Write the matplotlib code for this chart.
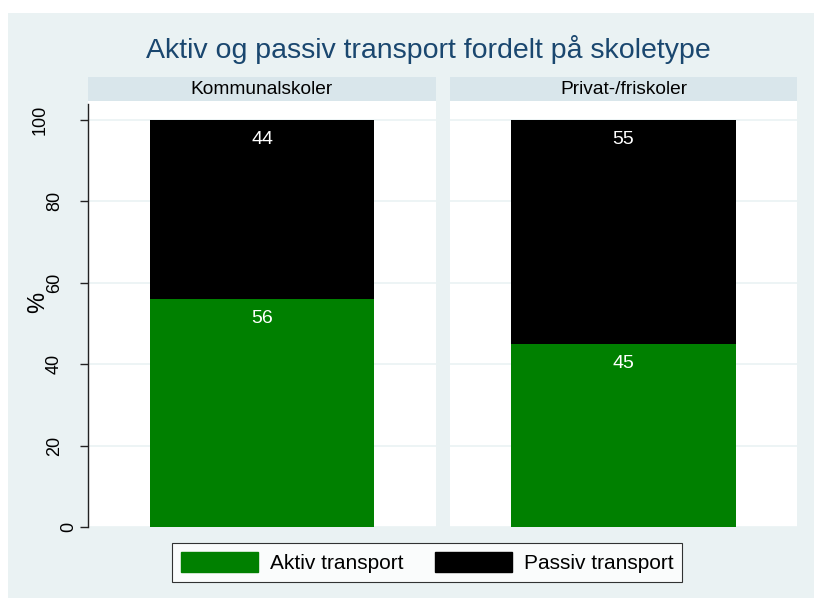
import matplotlib
matplotlib.use("Agg")
import matplotlib.pyplot as plt
import matplotlib.transforms as mtransforms
from matplotlib.patches import Patch, Rectangle

plt.rcParams['font.family'] = ['Liberation Sans', 'DejaVu Sans']

panels = ["Kommunalskoler", "Privat-/friskoler"]
aktiv = [56, 45]
passiv = [44, 55]
yticks = [0, 20, 40, 60, 80, 100]

bg = "#EAF2F3"
strip_col = "#D9E6EB"
green = "#008000"
title_col = "#1A476F"

W, H = 814, 598
fig = plt.figure(figsize=(W / 100, H / 100), dpi=100)
fig.patch.set_facecolor("white")
fig.patches.append(Rectangle((8 / W, 0), 1 - 8 / W, 1 - 13 / H,
                             transform=fig.transFigure, facecolor=bg,
                             edgecolor="none", zorder=-10))

lefts = [88 / W, 450 / W]
widths = [348 / W, 347 / W]
bottom = (H - 527) / H
height = 426 / H
strip_h = 24 / H

for i, name in enumerate(panels):
    ax = fig.add_axes([lefts[i], bottom, widths[i], height])
    ax.set_facecolor("white")
    ax.bar(0, aktiv[i], width=0.646, color=green, zorder=3)
    ax.bar(0, passiv[i], bottom=aktiv[i], width=0.646, color="black", zorder=3)
    ax.text(0, aktiv[i] - 4.8, str(aktiv[i]), color="white", ha="center",
            va="center", fontsize=14, zorder=4)
    ax.text(0, aktiv[i] + passiv[i] - 4.8, str(passiv[i]), color="white",
            ha="center", va="center", fontsize=14, zorder=4)
    ax.set_xlim(-0.5, 0.5)
    ax.set_ylim(0, 104.67)
    ax.set_yticks(yticks)
    ax.yaxis.grid(True, color=bg, linewidth=1.2, zorder=0)
    ax.set_xticks([])
    for s in ["top", "right", "bottom"]:
        ax.spines[s].set_visible(False)
    if i == 0:
        ax.spines["left"].set_color("#222222")
        ax.spines["left"].set_linewidth(1.0)
        ax.spines["left"].set_bounds(0, 104)
        ax.tick_params(axis="y", length=6, width=1, color="#222222",
                       labelleft=False)
        # rotated tick labels, shifted left by their length as in the original
        trans = mtransforms.blended_transform_factory(fig.transFigure, ax.transData)
        for t in yticks:
            lab = str(t)
            xpx = 68.5 - 14 * (len(lab) - 1)
            ax.text(xpx / W, t, lab, transform=trans, rotation=90,
                    ha="center", va="center", fontsize=13)
    else:
        ax.spines["left"].set_visible(False)
        ax.tick_params(axis="y", length=0, labelleft=False)

    sax = fig.add_axes([lefts[i], bottom + height, widths[i], strip_h])
    sax.set_facecolor(strip_col)
    sax.set_xticks([])
    sax.set_yticks([])
    for s in sax.spines.values():
        s.set_visible(False)
    sax.text(0.5, 0.5, name, ha="center", va="center", fontsize=13.8,
             transform=sax.transAxes)

fig.text(38 / W, 1 - 302 / H, "%", rotation=90, ha="center", va="center",
         fontsize=17)

fig.text(428 / W, 1 - 50 / H, "Aktiv og passiv transport fordelt på skoletype",
         ha="center", va="center", fontsize=20.5, color=title_col)

handles = [Patch(facecolor=green, edgecolor=green, label="Aktiv transport"),
           Patch(facecolor="black", edgecolor="black", label="Passiv transport")]
leg = fig.legend(handles=handles, loc="center", bbox_to_anchor=(427 / W, 1 - 562.5 / H),
                 ncol=2, fontsize=15, frameon=True, fancybox=False,
                 edgecolor="black", handlelength=3.7, handleheight=1.1,
                 handletextpad=0.58, columnspacing=1.5, borderpad=0.43)
leg.get_frame().set_linewidth(0.8)

fig.savefig("out.png", dpi=100, facecolor=fig.get_facecolor())
